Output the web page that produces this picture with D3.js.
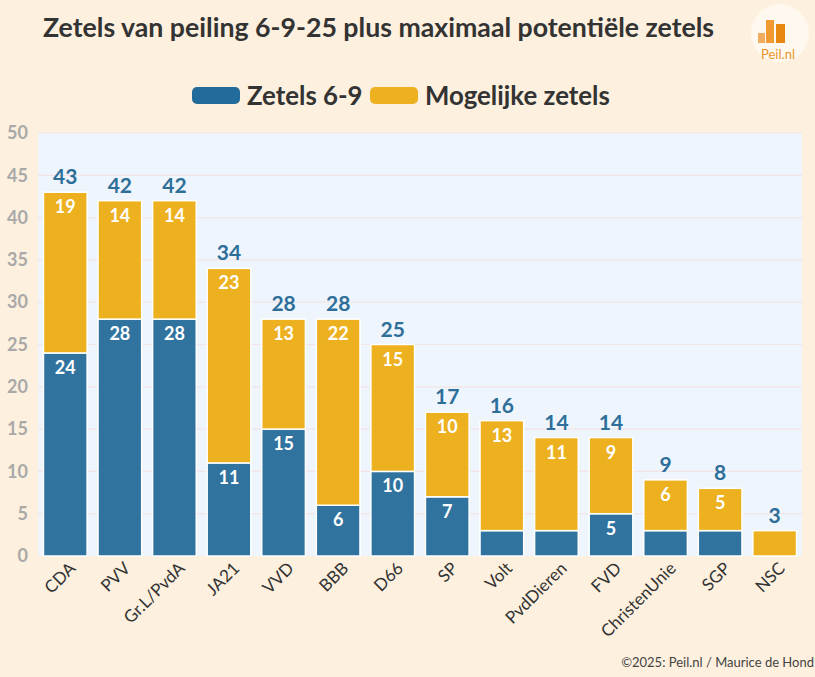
<!DOCTYPE html>
<html><head><meta charset="utf-8">
<script src="https://cdn.jsdelivr.net/npm/d3@7"></script>
<style>
body{margin:0;background:#fdf0de;}
svg{display:block;font-family:Lato,"Open Sans",sans-serif;}
</style></head><body>
<svg id="c" width="815" height="677"></svg>
<script>
const categories = ["CDA","PVV","Gr.L/PvdA","JA21","VVD","BBB","D66","SP","Volt","PvdDieren","FVD","ChristenUnie","SGP","NSC"];
const zetels69 = [24,28,28,11,15,6,10,7,3,3,5,3,3,0];
const mogelijk = [19,14,14,23,13,22,15,10,13,11,9,6,5,3];
const yTicks = [0,5,10,15,20,25,30,35,40,45,50];
const seriesNames = ["Zetels 6-9","Mogelijke zetels"];
const colors = ["#31739f","#edb120"];

const svg = d3.select("#c");
const W=815,H=677;
svg.append("rect").attr("width",W).attr("height",H).attr("fill","#fdf0de");

const m={l:38,r:13,t:133,b:121};
const x=d3.scaleBand().domain(categories).range([m.l,W-m.r]).paddingInner(0.2).paddingOuter(0.1);
const y=d3.scaleLinear().domain([0,50]).range([H-m.b,m.t]);

svg.append("rect").attr("x",m.l).attr("y",m.t).attr("width",W-m.r-m.l).attr("height",H-m.b-m.t).attr("fill","#eef5fc");

// gridlines
svg.append("g").selectAll("line").data(yTicks.filter(d=>d>0)).join("line")
 .attr("x1",m.l).attr("x2",W-m.r).attr("y1",d=>y(d)).attr("y2",d=>y(d))
 .attr("stroke","#f3e4e6").attr("stroke-width",1.2);

// y axis
const ya=svg.append("g").attr("transform",`translate(${m.l},0)`).call(d3.axisLeft(y).tickValues(yTicks).tickSize(0).tickPadding(10));
ya.select(".domain").remove();
ya.selectAll("text").attr("fill","#a9a9a9").attr("font-size",18).attr("font-weight",700).attr("font-family","Lato,sans-serif");

const data=categories.map((c,i)=>({c,a:zetels69[i],b:mogelijk[i]}));
const stack=d3.stack().keys(["a","b"])(data);
const g=svg.append("g");
stack.forEach((s,si)=>{
  g.append("g").selectAll("rect").data(s).join("rect")
   .attr("x",d=>x(d.data.c)).attr("width",x.bandwidth())
   .attr("y",d=>y(d[1])).attr("height",d=>Math.max(0,y(d[0])-y(d[1])))
   .attr("fill",colors[si]).attr("stroke","#ffffff").attr("stroke-width",d=>d[1]>d[0]?1.5:0);
  g.append("g").selectAll("text").data(s.filter(d=>d[1]-d[0]>=5)).join("text")
   .attr("x",d=>x(d.data.c)+x.bandwidth()/2).attr("y",d=>y(d[1])+21)
   .attr("text-anchor","middle").attr("fill","#fff").attr("font-size",18).attr("font-weight",700)
   .text(d=>d[1]-d[0]);
});
// totals
g.append("g").selectAll("text").data(data).join("text")
 .attr("x",d=>x(d.c)+x.bandwidth()/2).attr("y",d=>y(d.a+d.b)-8)
 .attr("text-anchor","middle").attr("fill","#2e6f9a").attr("font-size",21).attr("font-weight",700)
 .text(d=>d.a+d.b);

// x labels
svg.append("g").selectAll("text").data(categories).join("text")
 .attr("transform",d=>`translate(${x(d)+x.bandwidth()/2+3},${H-m.b+5}) rotate(-45)`)
 .attr("text-anchor","end").attr("dy","0.7em").attr("fill","#333").attr("font-size",17).text(d=>d);

// title
svg.append("text").attr("x",43).attr("y",37).attr("font-size",26.7).attr("font-weight",700).attr("fill","#333")
 .text("Zetels van peiling 6-9-25 plus maximaal potentiële zetels");

// legend
const lg=svg.append("g");
const legItems=[{x:192,tx:247},{x:370,tx:425}];
legItems.forEach((it,i)=>{
  lg.append("rect").attr("x",it.x).attr("y",87).attr("width",48).attr("height",17).attr("rx",5).attr("fill",i==0?"#236b9a":"#edb120");
  lg.append("text").attr("x",it.tx).attr("y",105).attr("font-size",25.8).attr("font-weight",700).attr("fill","#333").text(seriesNames[i]);
});

// logo
const lo=svg.append("g");
lo.append("circle").attr("cx",780).attr("cy",33).attr("r",29).attr("fill","#fff8ee");
lo.append("rect").attr("x",758).attr("y",33).attr("width",7).attr("height",10).attr("fill","#f0ad60");
lo.append("rect").attr("x",766).attr("y",20).attr("width",8).attr("height",23).attr("fill","#f09a30");
lo.append("rect").attr("x",776).attr("y",24).attr("width",9).attr("height",19).attr("fill","#e8870f");
lo.append("text").attr("x",778).attr("y",59).attr("text-anchor","middle").attr("font-size",13).attr("fill","#e8952a").text("Peil.nl");

// footer
svg.append("text").attr("x",814).attr("y",667).attr("text-anchor","end").attr("font-size",13).attr("fill","#444").text("©2025: Peil.nl / Maurice de Hond");
</script></body></html>
